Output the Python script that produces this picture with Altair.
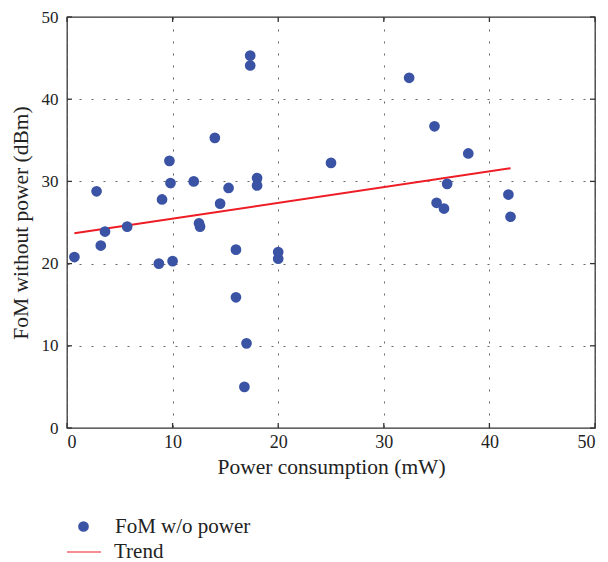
import altair as alt
import pandas as pd

# Data
power = [0.7, 2.8, 3.2, 3.6, 5.7, 8.7, 9.0, 9.7, 9.8, 10.0,
         12.0, 12.5, 12.6, 14.0, 14.5, 15.3, 16.0, 16.0, 17.0, 16.8,
         17.35, 17.35, 18.0, 18.0, 20.0, 20.0, 25.0, 32.4, 34.8, 35.0,
         35.7, 36.0, 38.0, 41.8, 42.0]
fom = [20.8, 28.8, 22.2, 23.9, 24.5, 20.0, 27.8, 32.5, 29.8, 20.3,
       30.0, 24.9, 24.5, 35.3, 27.3, 29.2, 21.7, 15.9, 10.3, 5.0,
       45.3, 44.1, 30.4, 29.5, 21.4, 20.6, 32.25, 42.6, 36.7, 27.4,
       26.7, 29.7, 33.4, 28.4, 25.7]
trend_x = [0.7, 42.0]
trend_y = [23.7, 31.6]
tick_values = [0, 10, 20, 30, 40, 50]

FONT = "Liberation Serif"
W, H = 528, 411

pts = pd.DataFrame({"power": power, "fom": fom, "series": "FoM w/o power"})
trend = pd.DataFrame({"power": trend_x, "fom": trend_y, "series": "Trend"})
ticks = pd.DataFrame({"t": tick_values})

xscale = alt.Scale(domain=[0, 50], nice=False, zero=False)
yscale = alt.Scale(domain=[0, 50], nice=False, zero=False)
XT = "Power consumption (mW)"
YT = "FoM without power (dBm)"

xaxis = alt.Axis(values=tick_values, grid=True, gridDash=[2, 10], gridColor="#666",
                 gridWidth=1, ticks=False, domain=False, labelFont=FONT,
                 labelFontSize=18, labelColor="#222", labelPadding=5,
                 titleFont=FONT, titleFontSize=21.5, titleFontWeight="normal",
                 titleColor="#222", titlePadding=5)
yaxis = alt.Axis(values=tick_values, grid=True, gridDash=[2, 10], gridColor="#666",
                 gridWidth=1, ticks=False, domain=False, labelFont=FONT,
                 labelFontSize=17, labelColor="#222", labelPadding=9,
                 titleFont=FONT, titleFontSize=21.5, titleFontWeight="normal",
                 titleColor="#222", titlePadding=9)

points = alt.Chart(pts).mark_circle(size=115, opacity=1).encode(
    x=alt.X("power:Q", scale=xscale, axis=xaxis, title=XT),
    y=alt.Y("fom:Q", scale=yscale, axis=yaxis, title=YT),
    color=alt.Color("series:N",
                    scale=alt.Scale(domain=["FoM w/o power"], range=["#3a53a4"]),
                    legend=alt.Legend(orient="none", legendX=6, legendY=499,
                                      title=None, padding=0, labelFont=FONT,
                                      labelFontSize=21, labelColor="#222",
                                      labelOffset=21, symbolSize=115,
                                      symbolOpacity=1)),
)

line = alt.Chart(trend).mark_line(strokeWidth=2).encode(
    x=alt.X("power:Q", scale=xscale, title=XT),
    y=alt.Y("fom:Q", scale=yscale, title=YT),
    stroke=alt.Stroke("series:N",
                      scale=alt.Scale(domain=["Trend"], range=["#ee1c24"]),
                      legend=alt.Legend(orient="none", legendX=-1, legendY=517,
                                        title=None, padding=0, labelFont=FONT,
                                        labelFontSize=21, labelColor="#222",
                                        labelOffset=12, symbolType="stroke",
                                        symbolSize=1156, symbolStrokeWidth=1.2)),
)

tick_col = "#333"
bottom_ticks = alt.Chart(ticks).mark_rule(color=tick_col, strokeWidth=1.3).encode(
    x=alt.X("t:Q", scale=xscale, title=XT), y=alt.value(H), y2=alt.value(H - 5))
top_ticks = alt.Chart(ticks).mark_rule(color=tick_col, strokeWidth=1.3).encode(
    x=alt.X("t:Q", scale=xscale, title=XT), y=alt.value(0), y2=alt.value(5))
left_ticks = alt.Chart(ticks).mark_rule(color=tick_col, strokeWidth=1.3).encode(
    y=alt.Y("t:Q", scale=yscale, title=YT), x=alt.value(0), x2=alt.value(5))
right_ticks = alt.Chart(ticks).mark_rule(color=tick_col, strokeWidth=1.3).encode(
    y=alt.Y("t:Q", scale=yscale, title=YT), x=alt.value(W), x2=alt.value(W - 5))

chart = alt.layer(bottom_ticks, top_ticks, left_ticks, right_ticks, line, points).resolve_legend(
    color="independent", stroke="independent"
).properties(
    width=W, height=H,
    autosize=alt.AutoSizeParams(type="none"),
    padding={"left": 59, "top": 9, "right": 4, "bottom": 136},
    background="white",
).configure_view(stroke="#333", strokeWidth=1.3)

chart.save("out.html", embed_options={"renderer": "svg", "actions": False})
